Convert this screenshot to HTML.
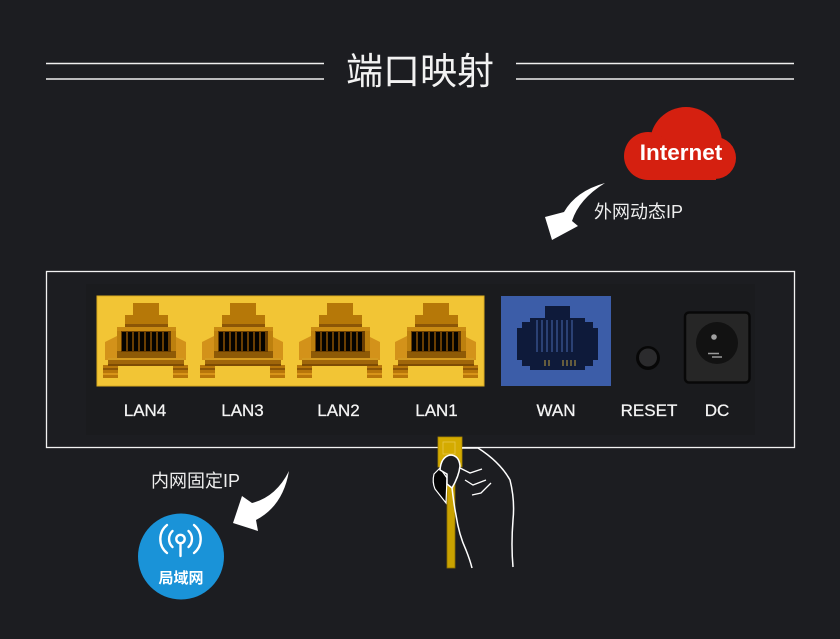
<!DOCTYPE html>
<html>
<head>
<meta charset="utf-8">
<style>
  html,body{margin:0;padding:0;background:#1c1d21;}
  svg{display:block;}
  .cjk{font-family:"Liberation Sans","Noto Sans CJK SC",sans-serif;}
  .lbl{font-family:"Liberation Sans",Arial,sans-serif;font-size:17px;fill:#f4f4f4;text-anchor:middle;stroke:#f4f4f4;stroke-width:0.25;}
</style>
</head>
<body>
<svg width="840" height="639" viewBox="0 0 840 639" xmlns="http://www.w3.org/2000/svg">
  <defs>
    <g id="port">
      <rect x="0" y="69" width="15" height="13" fill="#b8760a"/>
      <rect x="0" y="72" width="15" height="2" fill="#8d5606"/>
      <rect x="0" y="77" width="15" height="2" fill="#d89418"/>
      <rect x="70" y="69" width="15" height="13" fill="#b8760a"/>
      <rect x="70" y="72" width="15" height="2" fill="#8d5606"/>
      <rect x="70" y="77" width="15" height="2" fill="#d89418"/>
      <polygon points="2,46 14,40 14,64 2,64" fill="#d3921a"/>
      <polygon points="83,46 71,40 71,64 83,64" fill="#d3921a"/>
      <rect x="30" y="7" width="26" height="12" fill="#b67808"/>
      <rect x="22" y="19" width="43" height="12" fill="#b67808"/>
      <rect x="22" y="28" width="43" height="3" fill="#8c5606"/>
      <rect x="14" y="31" width="59" height="31" fill="#bd800e"/>
      <rect x="14" y="31" width="59" height="4" fill="#c98a12"/>
      <rect x="14" y="55" width="59" height="7" fill="#8e5a06"/>
      <rect x="18" y="35" width="50" height="21" fill="#6a3e02"/>
      <rect x="19" y="36" width="4" height="19" fill="#050300"/>
      <rect x="25" y="36" width="4" height="19" fill="#050300"/>
      <rect x="31" y="36" width="4" height="19" fill="#050300"/>
      <rect x="37" y="36" width="4" height="19" fill="#050300"/>
      <rect x="43" y="36" width="4" height="19" fill="#050300"/>
      <rect x="49" y="36" width="4" height="19" fill="#050300"/>
      <rect x="55" y="36" width="4" height="19" fill="#050300"/>
      <rect x="61" y="36" width="4" height="19" fill="#050300"/>
      <rect x="5" y="62" width="76" height="8" fill="#a0660a"/>
      <rect x="5" y="62" width="76" height="2" fill="#d49a20"/>
      <rect x="5" y="68" width="76" height="2" fill="#7e4c04"/>
    </g>
  </defs>

  <!-- Title -->
  <line x1="46" y1="63.5" x2="324" y2="63.5" stroke="#f0f0f0" stroke-width="1.5"/>
  <line x1="46" y1="79" x2="324" y2="79" stroke="#f0f0f0" stroke-width="1.5"/>
  <line x1="516" y1="63.5" x2="794" y2="63.5" stroke="#f0f0f0" stroke-width="1.5"/>
  <line x1="516" y1="79" x2="794" y2="79" stroke="#f0f0f0" stroke-width="1.5"/>
  <text x="420" y="84" class="cjk" font-size="37" fill="#f2f2f2" text-anchor="middle">端口映射</text>

  <!-- Cloud -->
  <g fill="#d52010">
    <circle cx="686" cy="143" r="36"/>
    <circle cx="648" cy="156" r="24"/>
    <circle cx="715" cy="158" r="21"/>
    <rect x="648" y="150" width="68" height="30"/>
  </g>
  <text x="681" y="160" font-family="'Liberation Sans',Arial,sans-serif" font-weight="bold" font-size="22.5" fill="#ffffff" text-anchor="middle">Internet</text>

  <!-- Arrow 1 -->
  <path d="M605,183 Q576,191 564,212 L545,217 L552,240 L578,226 L572,221 Q579,199 605,183 Z" fill="#ffffff"/>
  <text x="594" y="218" class="cjk" font-size="18" fill="#eeeeee">外网动态IP</text>

  <!-- Router panel -->
  <rect x="46.5" y="271.5" width="748" height="176" fill="none" stroke="#f2f2f2" stroke-width="1.3"/>
  <rect x="86" y="284" width="669" height="151" fill="#1a1b1e"/>

  <!-- LAN block -->
  <rect x="97" y="296" width="387" height="90" fill="#f2c535" stroke="#d9ab20" stroke-width="1"/>
  <use href="#port" x="103" y="296"/>
  <use href="#port" x="200" y="296"/>
  <use href="#port" x="297" y="296"/>
  <use href="#port" x="393" y="296"/>

  <!-- WAN block -->
  <rect x="501" y="296" width="110" height="90" fill="#3c5da8"/>
  <g fill="#0e1a3a">
    <rect x="545" y="306" width="25" height="13"/>
    <rect x="530" y="318" width="55" height="52"/>
    <rect x="522" y="322" width="71" height="44"/>
    <rect x="517" y="328" width="81" height="32"/>
  </g>
  <g stroke="#3f5c9c" stroke-width="1.2">
    <line x1="537" y1="320" x2="537" y2="352"/>
    <line x1="542" y1="320" x2="542" y2="352"/>
    <line x1="547" y1="320" x2="547" y2="352"/>
    <line x1="552" y1="320" x2="552" y2="352"/>
    <line x1="557" y1="320" x2="557" y2="352"/>
    <line x1="562" y1="320" x2="562" y2="352"/>
    <line x1="567" y1="320" x2="567" y2="352"/>
    <line x1="572" y1="320" x2="572" y2="352"/>
  </g>
  <g stroke="#a08a40" stroke-width="1.2">
    <line x1="545" y1="360" x2="545" y2="366"/>
    <line x1="549" y1="360" x2="549" y2="366"/>
    <line x1="563" y1="360" x2="563" y2="366"/>
    <line x1="567" y1="360" x2="567" y2="366"/>
    <line x1="571" y1="360" x2="571" y2="366"/>
    <line x1="575" y1="360" x2="575" y2="366"/>
  </g>

  <!-- RESET -->
  <circle cx="648" cy="358" r="12" fill="#070707"/>
  <circle cx="648" cy="357.5" r="9" fill="#2b2b2d"/>

  <!-- DC -->
  <rect x="685" y="312.5" width="64.5" height="70" rx="4" fill="#262626" stroke="#080808" stroke-width="2.5"/>
  <circle cx="717" cy="343" r="21" fill="#121212"/>
  <circle cx="714" cy="337" r="2.8" fill="#a0a0a0"/>
  <line x1="708" y1="353.5" x2="719" y2="353.5" stroke="#9a9a9a" stroke-width="1.5"/>
  <line x1="712" y1="357" x2="722" y2="357" stroke="#9a9a9a" stroke-width="1.5"/>

  <!-- Labels -->
  <text x="145" y="416" class="lbl">LAN4</text>
  <text x="242.5" y="416" class="lbl">LAN3</text>
  <text x="338.5" y="416" class="lbl">LAN2</text>
  <text x="436.5" y="416" class="lbl">LAN1</text>
  <text x="556" y="416" class="lbl">WAN</text>
  <text x="649" y="416" class="lbl">RESET</text>
  <text x="717" y="416" class="lbl">DC</text>

  <!-- Cable and hand -->
  <rect x="447" y="462" width="8" height="106" fill="#c9a200" stroke="#8a6e00" stroke-width="0.8"/>
  <rect x="438" y="437" width="24" height="30" fill="#d4ab00" stroke="#a88600" stroke-width="0.8"/>
  <rect x="443" y="442" width="12" height="12" fill="none" stroke="#e8c84a" stroke-width="0.8"/>
  <path d="M440,468 L434,474 Q432,482 435,489 L446,503 L447,478 Z" fill="#050505" stroke="#ffffff" stroke-width="1.2"/>
  <path d="M440,470 Q441,457 450,455 Q459,455 460,466 Q459,476 452,488 L447,484 L447,474 Z" fill="#1c1d21" stroke="#ffffff" stroke-width="1.5"/>
  <path d="M452,488 Q454,505 456,515 Q459,535 466,550 Q470,560 472,568" fill="none" stroke="#ffffff" stroke-width="1.5"/>
  <path d="M462,448 L478,448 Q500,462 510,480 Q515,500 513,520 Q511,545 513,567" fill="none" stroke="#ffffff" stroke-width="1.5"/>
  <path d="M460,468 L470,473 L482,469" fill="none" stroke="#ffffff" stroke-width="1.3"/>
  <path d="M465,480 L473,485 L486,480" fill="none" stroke="#ffffff" stroke-width="1.3"/>
  <path d="M472,495 L481,493 L491,483" fill="none" stroke="#ffffff" stroke-width="1.3"/>

  <!-- Arrow 2 -->
  <path d="M289,471 Q276,497 252,503 L242,496 L233,523 L258,531 L256,520 Q283,506 289,471 Z" fill="#ffffff"/>
  <text x="151" y="487" class="cjk" font-size="18" fill="#eeeeee">内网固定IP</text>

  <!-- LAN circle -->
  <circle cx="181" cy="556.5" r="43" fill="#1a93d8"/>
  <g fill="none" stroke="#ffffff" stroke-width="2.4" stroke-linecap="round">
    <circle cx="180.5" cy="539" r="4.2"/>
    <path d="M172.5,531 A11,11 0 0 0 172.5,547"/>
    <path d="M188.5,531 A11,11 0 0 1 188.5,547"/>
    <path d="M167,525 A18,18 0 0 0 167,553"/>
    <path d="M194,525 A18,18 0 0 1 194,553"/>
    <line x1="180.5" y1="544" x2="180.5" y2="556"/>
  </g>
  <text x="181" y="583" class="cjk" font-size="15" font-weight="bold" fill="#ffffff" text-anchor="middle">局域网</text>
</svg>
</body>
</html>
